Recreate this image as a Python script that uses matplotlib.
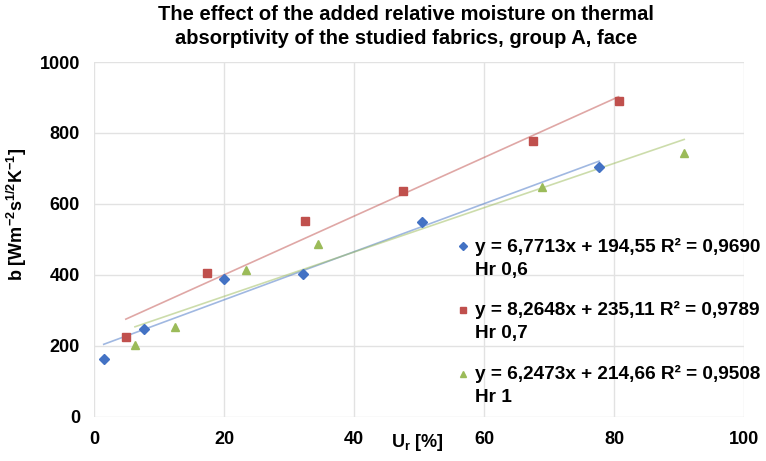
import numpy as np
import matplotlib
matplotlib.use("Agg")
import matplotlib.pyplot as plt
from matplotlib.legend_handler import HandlerLine2D

plt.rcParams['font.family'] = ['Liberation Sans Narrow', 'Liberation Sans', 'DejaVu Sans']
plt.rcParams['mathtext.default'] = 'regular'

# data
x_06 = [1.5, 7.7, 20.0, 32.2, 50.5, 77.7]
y_06 = [163, 247, 390, 402, 549, 703]
x_07 = [4.9, 17.4, 32.5, 47.5, 67.5, 80.7]
y_07 = [225, 406, 553, 637, 778, 890]
x_1 = [6.3, 12.5, 23.4, 34.4, 68.9, 90.8]
y_1 = [202, 254, 413, 488, 649, 745]

fits = [(6.7713, 194.55), (8.2648, 235.11), (6.2473, 214.66)]
labels = ["y = 6,7713x + 194,55 R² = 0,9690\nHr 0,6",
          "y = 8,2648x + 235,11 R² = 0,9789\nHr 0,7",
          "y = 6,2473x + 214,66 R² = 0,9508\nHr 1"]


class FirstLineHandler(HandlerLine2D):
    # put the legend marker next to the first line of a two-line label
    def create_artists(self, legend, orig_handle, xdescent, ydescent, width, height, fontsize, trans):
        arts = super().create_artists(legend, orig_handle, xdescent, ydescent, width, height, fontsize, trans)
        for a in arts:
            a.set_ydata(np.asarray(a.get_ydata(), dtype=float) + 0.62 * fontsize)
        return arts


fig = plt.figure(figsize=(7.66, 4.61), dpi=100)
ax = fig.add_axes([0.1227, 0.0955, 0.8486, 0.77])

series = [(x_06, y_06, 'D', '#4372C4', 5), (x_07, y_07, 's', '#C0504D', 6), (x_1, y_1, '^', '#9BBB59', 6)]
handles = []
for (xs, ys, mk, col, ms), (a, b), lab in zip(series, fits, labels):
    xs = np.array(xs)
    xl = np.array([xs.min(), xs.max()])
    ax.plot(xl, a * xl + b, color=col, alpha=0.5, lw=1.2, zorder=2)
    h, = ax.plot(xs, ys, mk, color=col, ms=ms, label=lab, zorder=3)
    handles.append(h)

ax.set_xlim(0, 100)
ax.set_ylim(0, 1000)
ax.set_xticks(range(0, 101, 20))
ax.set_yticks(range(0, 1001, 200))
ax.grid(color='#E2E2E2', lw=1)
ax.set_axisbelow(True)
for s in ax.spines.values():
    s.set_visible(False)
ax.tick_params(length=0, labelsize=13, pad=10)
for t in ax.get_xticklabels() + ax.get_yticklabels():
    t.set_fontweight('bold')

ax.set_ylabel(r'b [Wm$^{-2}$s$^{1/2}$K$^{-1}$]', fontsize=13, fontweight='bold')
ax.yaxis.set_label_coords(-0.1, 0.57)
fig.text(0.545, 0.04, r'U$_r$ [%]', fontsize=13, fontweight='bold', ha='center', va='center')

fig.suptitle("The effect of the added relative moisture on thermal\n"
             "absorptivity of the studied fabrics, group A, face",
             fontsize=14.5, fontweight='bold', x=0.53, y=0.99, linespacing=1.35)

leg = ax.legend(handles=handles, loc='upper left', bbox_to_anchor=(0.588, 0.501),
                bbox_transform=fig.transFigure, frameon=False,
                prop={'weight': 'bold', 'size': 13.7},
                handlelength=0.5, handletextpad=0.4, labelspacing=1.2, markerscale=0.75,
                borderaxespad=0, handler_map={h: FirstLineHandler(numpoints=1) for h in handles})
for t in leg.get_texts():
    t.set_linespacing(1.45)

fig.savefig('out.png', dpi=100)
